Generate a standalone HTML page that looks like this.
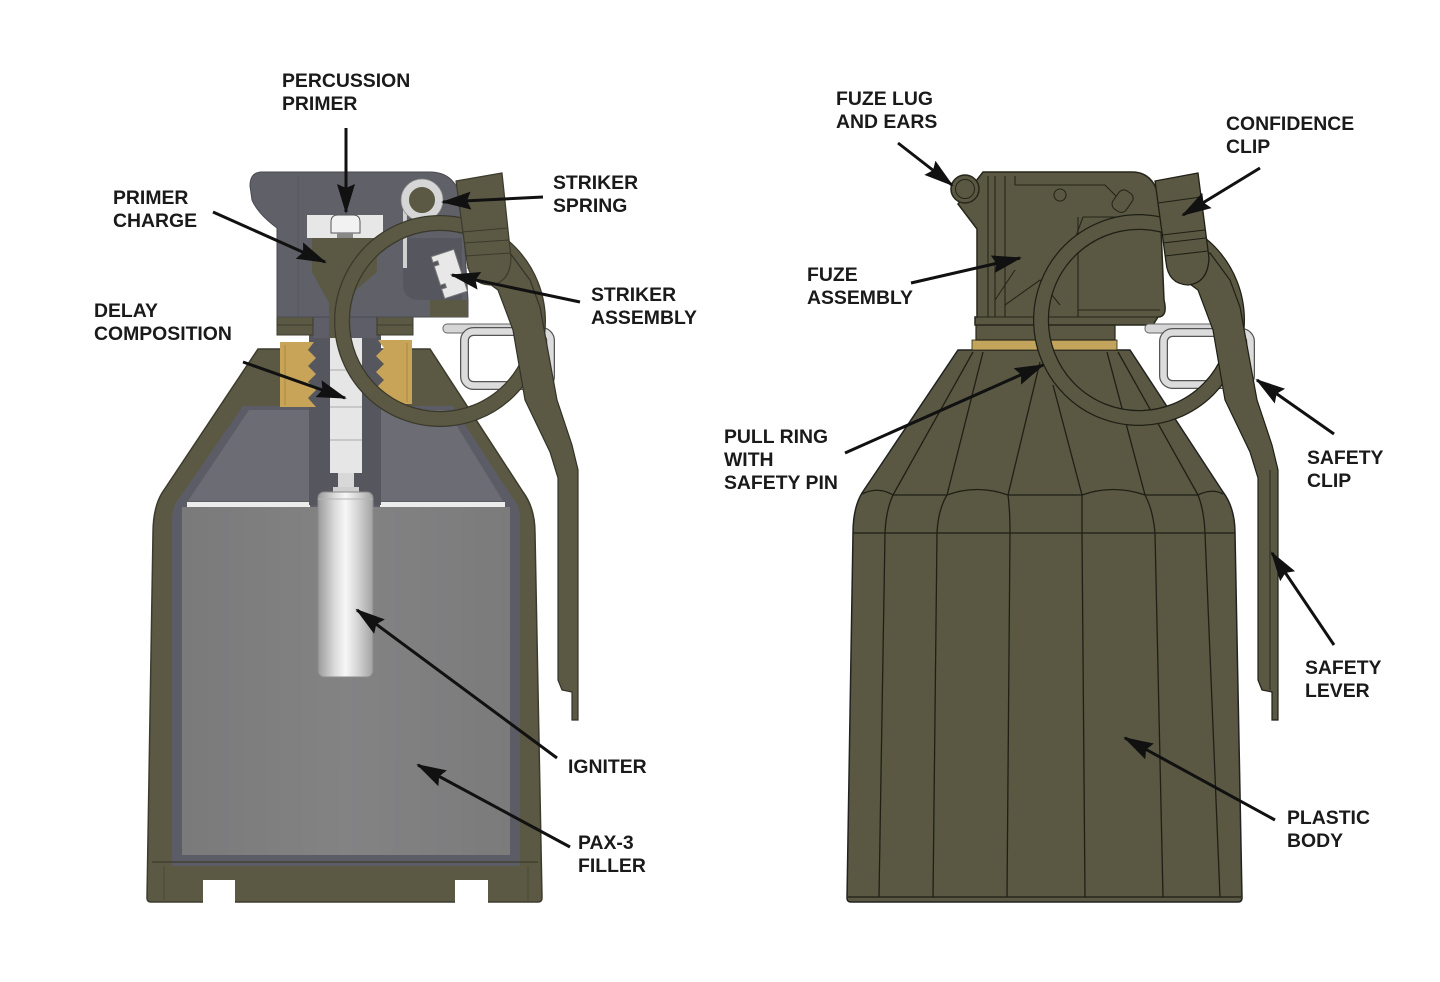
<!DOCTYPE html>
<html><head><meta charset="utf-8"><style>
html,body{margin:0;padding:0;background:#fff;}
svg{display:block;}
text{font-family:"Liberation Sans",Arial,sans-serif;font-weight:bold;font-size:19.4px;fill:#1a1a1a;}
</style></head><body>
<svg width="1440" height="982" viewBox="0 0 1440 982" xmlns="http://www.w3.org/2000/svg">
<defs>
<linearGradient id="ign" x1="0" y1="0" x2="1" y2="0">
<stop offset="0" stop-color="#9a9a9a"/><stop offset="0.3" stop-color="#dadada"/><stop offset="0.5" stop-color="#f7f7f7"/><stop offset="0.75" stop-color="#d0d0d0"/><stop offset="1" stop-color="#a2a2a2"/>
</linearGradient>
<linearGradient id="fill" x1="0" y1="0" x2="1" y2="0">
<stop offset="0" stop-color="#7a7a7b"/><stop offset="0.5" stop-color="#838384"/><stop offset="1" stop-color="#7b7b7c"/>
</linearGradient>
<marker id="ah" markerWidth="32" markerHeight="20" refX="28" refY="9" orient="auto" markerUnits="userSpaceOnUse"><path d="M0,0 L30,9 L0,18 L4,9 Z" fill="#111"/></marker>
</defs>
<rect width="1440" height="982" fill="#fff"/>

<!-- ================= LEFT (cutaway) ================= -->
<path d="M258,349 L430,349 L523,492 Q535,508 535,533 L542,898 Q542,902 538,902 L151,902 Q147,902 147,898 L153,533 Q153,508 162,493 Z" fill="#5b5943" stroke="#3c3b2d" stroke-width="1.5"/>
<path d="M243,406 L453,406 L512,497 Q520,506 520,518 L520,866 L172,866 L172,518 Q172,506 180,497 Z" fill="#5c5c66"/>
<path d="M249,410 L447,410 L503,501 L188,501 Z" fill="#6c6c74"/>
<rect x="182" y="507" width="328" height="348" fill="url(#fill)"/>
<rect x="187" y="502" width="123" height="5" fill="#ececec"/>
<rect x="380" y="502" width="125" height="5" fill="#ececec"/>
<line x1="152" y1="862" x2="538" y2="862" stroke="#3c3b2d" stroke-width="1.2"/>
<line x1="164" y1="866" x2="164" y2="900" stroke="#4a4936" stroke-width="1"/>
<line x1="528" y1="866" x2="528" y2="900" stroke="#4a4936" stroke-width="1"/>
<rect x="203" y="880" width="32" height="23" fill="#fff"/>
<rect x="455" y="880" width="33" height="23" fill="#fff"/>
<!-- tube -->
<rect x="309" y="316" width="72" height="189" fill="#56565f"/>
<rect x="313" y="316" width="64" height="22" fill="#5e5e68"/>
<rect x="330" y="338" width="32" height="135" fill="#e6e6e6"/>
<line x1="330" y1="370" x2="362" y2="370" stroke="#aaa"/>
<line x1="330" y1="407" x2="362" y2="407" stroke="#aaa"/>
<line x1="330" y1="440" x2="362" y2="440" stroke="#aaa"/>
<rect x="338" y="473" width="16" height="15" fill="#d8d8d8"/>
<rect x="333" y="487" width="26" height="5" fill="#cfcfcf"/>
<rect x="318" y="492" width="55" height="185" rx="6" fill="url(#ign)" stroke="#8a8a8a"/>
<line x1="318" y1="499" x2="373" y2="499" stroke="#b5b5b5"/>
<!-- brass threads -->
<path d="M280,342 H314 L308,350 L316,358 L308,366 L316,374 L308,382 L316,390 L308,398 L316,407 H280 Z" fill="#c7a458"/>
<path d="M412,340 H378 L384,348 L376,356 L384,364 L376,372 L384,380 L376,388 L384,396 L378,404 H412 Z" fill="#c7a458"/>
<g stroke="#a88a42" stroke-width="1">
<line x1="285" y1="345" x2="285" y2="405"/><line x1="407" y1="343" x2="407" y2="402"/>
</g>
<rect x="277" y="317" width="36" height="18" fill="#5b5943" stroke="#3c3b2d"/>
<rect x="377" y="317" width="36" height="18" fill="#5b5943" stroke="#3c3b2d"/>
<line x1="277" y1="325" x2="313" y2="325" stroke="#3c3b2d"/>
<line x1="377" y1="325" x2="413" y2="325" stroke="#3c3b2d"/>
<!-- fuze body -->
<path d="M262,172 H430 Q456,172 462,202 L468,300 V317 H277 V228 Q258,214 252,200 L250,186 Q250,172 262,172 Z" fill="#606069" stroke="#4a4a52"/>
<line x1="298" y1="176" x2="298" y2="317" stroke="#56565e"/>
<path d="M403,238 H462 V300 H420 Q403,300 403,283 Z" fill="#56565f"/>
<rect x="307" y="215" width="76" height="23" fill="#e7e7e7"/>
<path d="M331,233 V222 Q331,215 338,215 H353 Q360,215 360,222 V233 Z" fill="#f2f2f2" stroke="#555"/>
<rect x="337" y="233" width="16" height="5" fill="#888"/>
<path d="M312,238 H377 V272 L341,303 V338 H329 V303 L312,272 Z" fill="#5b5943"/>
<path d="M430,300 H468 V317 H430 Z" fill="#5b5943"/>
<!-- spring -->
<line x1="405" y1="200" x2="405" y2="268" stroke="#d0d0d0" stroke-width="4"/>
<circle cx="422" cy="200" r="17" fill="#5b5943" stroke="#d6d6d6" stroke-width="8"/>
<circle cx="422" cy="200" r="21" fill="none" stroke="#8a8a8a" stroke-width="0.8"/>
<g transform="rotate(-18 449 273)"><path d="M437,252 H461 V296 H437 V286 H442 V282 H437 V262 H442 V258 H437 Z" fill="#e8e8e8" stroke="#777"/></g>
<rect x="443" y="324" width="80" height="9" rx="4" fill="#d6d6d6" stroke="#666"/>
<rect x="464.5" y="331.5" width="86" height="54" rx="9" fill="none" stroke="#555" stroke-width="9"/>
<rect x="464.5" y="331.5" width="86" height="54" rx="9" fill="none" stroke="#dcdcdc" stroke-width="6.5"/>
<circle cx="440" cy="321" r="98" fill="none" stroke="#3a392b" stroke-width="16"/>
<circle cx="440" cy="321" r="98" fill="none" stroke="#5b5943" stroke-width="13.5"/>
<path d="M468,268 L510,253 L530,280 L540,307 L557,400 L572,445 L578,470 L578,720 L572,720 L572,692 L562,690 L558,680 L558,478 L550,452 L525,400 L513,330 L498,290 Z" fill="#5b5943" stroke="#33322a" stroke-width="1.2"/>
<path d="M456,181 L502,173 L511,258 Q510,283 490,285 Q470,284 467,262 Z" fill="#5b5943" stroke="#3c3b2d" stroke-width="1.2"/>
<g stroke="#3c3b2d" stroke-width="1"><line x1="462" y1="232" x2="508" y2="228"/><line x1="464" y1="243" x2="509" y2="240"/><line x1="465" y1="256" x2="510" y2="253"/></g>

<!-- ================= RIGHT (exterior) ================= -->
<path d="M958,350 L1130,350 L1223,492 Q1235,508 1235,533 L1242,898 Q1242,902 1238,902 L851,902 Q847,902 847,898 L853,533 Q853,508 862,493 Z" fill="#5a5842" stroke="#222" stroke-width="1.5"/>
<g fill="none" stroke="#1f1f16" stroke-width="1.3">
<line x1="853" y1="533" x2="1235" y2="533"/>
<line x1="848" y1="897" x2="1241" y2="897"/>
<path d="M862,494 Q878,486 893,495 L947,495 Q977,484 1008,495 L1082,495 Q1113,484 1145,495 L1198,495 Q1212,488 1223,494"/>
<path d="M893,495 Q886,510 885,533 L879,897"/>
<path d="M947,495 Q938,510 937,533 L933,897"/>
<path d="M1008,495 Q1010,510 1010,533 L1007,897"/>
<path d="M1082,495 Q1082,515 1082,533 L1085,897"/>
<path d="M1145,495 Q1153,510 1155,533 L1163,897"/>
<path d="M1198,495 Q1204,510 1205,533 L1220,897"/>
<line x1="893" y1="495" x2="973" y2="352"/>
<line x1="947" y1="495" x2="983" y2="352"/>
<line x1="1008" y1="495" x2="1040" y2="362"/>
<line x1="1082" y1="495" x2="1053" y2="385"/>
<line x1="1145" y1="495" x2="1107" y2="352"/>
<line x1="1198" y1="495" x2="1118" y2="352"/>
</g>
<rect x="972" y="340" width="145" height="10" fill="#c3a45c" stroke="#26261a" stroke-width="0.8"/>
<rect x="976" y="324" width="139" height="16" fill="#5a5842" stroke="#26261a" stroke-width="1.2"/>
<path d="M983,172 H1132 Q1156,172 1160,204 L1164,300 Q1168,317 1158,317 L1153,325 H975 V317 H977 V229 L958,204 Z" fill="#5a5842" stroke="#26261a" stroke-width="1.5"/>
<g fill="none" stroke="#26261a" stroke-width="1.1">
<line x1="975" y1="317" x2="1158" y2="317"/>
<line x1="988" y1="176" x2="988" y2="317"/>
<line x1="995" y1="176" x2="995" y2="317"/>
<line x1="1005" y1="176" x2="1005" y2="317"/>
<path d="M1015,176 V185 H1105 L1120,200"/>
<circle cx="1060" cy="195" r="6"/>
<path d="M1083,217 H1147"/>
<path d="M1083,217 L1072,247"/>
<line x1="1078" y1="217" x2="1078" y2="317"/>
<line x1="1078" y1="310" x2="1160" y2="310"/>
<path d="M995,300 L1015,270"/>
<path d="M1005,305 L1040,280 L1060,305"/>
</g>
<g transform="rotate(35 1122 202)"><rect x="1114" y="190" width="16" height="22" rx="6" fill="#5a5842" stroke="#26261a" stroke-width="1.1"/></g>
<circle cx="965" cy="189" r="14" fill="#5a5842" stroke="#26261a" stroke-width="1.5"/>
<circle cx="965" cy="189" r="9.5" fill="none" stroke="#26261a"/>
<rect x="1145" y="324" width="80" height="9" rx="4" fill="#d6d6d6" stroke="#666"/>
<rect x="1163.5" y="332.5" width="87" height="52" rx="9" fill="none" stroke="#555" stroke-width="9"/>
<rect x="1163.5" y="332.5" width="87" height="52" rx="9" fill="none" stroke="#dcdcdc" stroke-width="6.5"/>
<circle cx="1139" cy="320" r="98" fill="none" stroke="#1f1f16" stroke-width="16"/>
<circle cx="1139" cy="320" r="98" fill="none" stroke="#5a5842" stroke-width="13.5"/>
<path d="M1168,268 L1210,253 L1230,280 L1240,307 L1257,400 L1272,445 L1278,470 L1278,720 L1272,720 L1272,692 L1262,690 L1258,680 L1258,478 L1250,452 L1225,400 L1213,330 L1198,290 Z" fill="#5a5842" stroke="#1f1f16" stroke-width="1.2"/>
<line x1="1270" y1="470" x2="1270" y2="690" stroke="#1f1f16" stroke-width="0.8"/>
<path d="M1155,181 L1198,173 L1209,258 Q1208,283 1188,285 Q1168,284 1166,262 Z" fill="#5a5842" stroke="#1f1f16" stroke-width="1.3"/>
<g stroke="#1f1f16" stroke-width="1.1"><line x1="1158" y1="203" x2="1201" y2="197"/><line x1="1162" y1="235" x2="1205" y2="230"/><line x1="1163" y1="243" x2="1206" y2="238"/><line x1="1165" y1="256" x2="1208" y2="251"/></g>

<!-- ================= ARROWS ================= -->
<g stroke="#111" stroke-width="3" fill="none" marker-end="url(#ah)">
<line x1="346" y1="128" x2="346" y2="212"/>
<line x1="213" y1="212" x2="325" y2="262"/>
<line x1="543" y1="197" x2="443" y2="202"/>
<line x1="580" y1="302" x2="452" y2="275"/>
<line x1="243" y1="362" x2="345" y2="398"/>
<line x1="557" y1="758" x2="357" y2="610"/>
<line x1="570" y1="847" x2="418" y2="765"/>
<line x1="898" y1="143" x2="952" y2="185"/>
<line x1="1260" y1="168" x2="1183" y2="215"/>
<line x1="911" y1="283" x2="1020" y2="258"/>
<line x1="845" y1="453" x2="1043" y2="365"/>
<line x1="1334" y1="434" x2="1257" y2="380"/>
<line x1="1334" y1="645" x2="1272" y2="553"/>
<line x1="1275" y1="820" x2="1125" y2="738"/>
</g>

<!-- ================= LABELS ================= -->
<text x="282" y="87">PERCUSSION</text><text x="282" y="110">PRIMER</text>
<text x="113" y="204">PRIMER</text><text x="113" y="227">CHARGE</text>
<text x="553" y="189">STRIKER</text><text x="553" y="212">SPRING</text>
<text x="591" y="301">STRIKER</text><text x="591" y="324">ASSEMBLY</text>
<text x="94" y="317">DELAY</text><text x="94" y="340">COMPOSITION</text>
<text x="568" y="773">IGNITER</text>
<text x="578" y="849">PAX-3</text><text x="578" y="872">FILLER</text>
<text x="836" y="105">FUZE LUG</text><text x="836" y="128">AND EARS</text>
<text x="1226" y="130">CONFIDENCE</text><text x="1226" y="153">CLIP</text>
<text x="807" y="281">FUZE</text><text x="807" y="304">ASSEMBLY</text>
<text x="724" y="443">PULL RING</text><text x="724" y="466">WITH</text><text x="724" y="489">SAFETY PIN</text>
<text x="1307" y="464">SAFETY</text><text x="1307" y="487">CLIP</text>
<text x="1305" y="674">SAFETY</text><text x="1305" y="697">LEVER</text>
<text x="1287" y="824">PLASTIC</text><text x="1287" y="847">BODY</text>
</svg>
</body></html>
